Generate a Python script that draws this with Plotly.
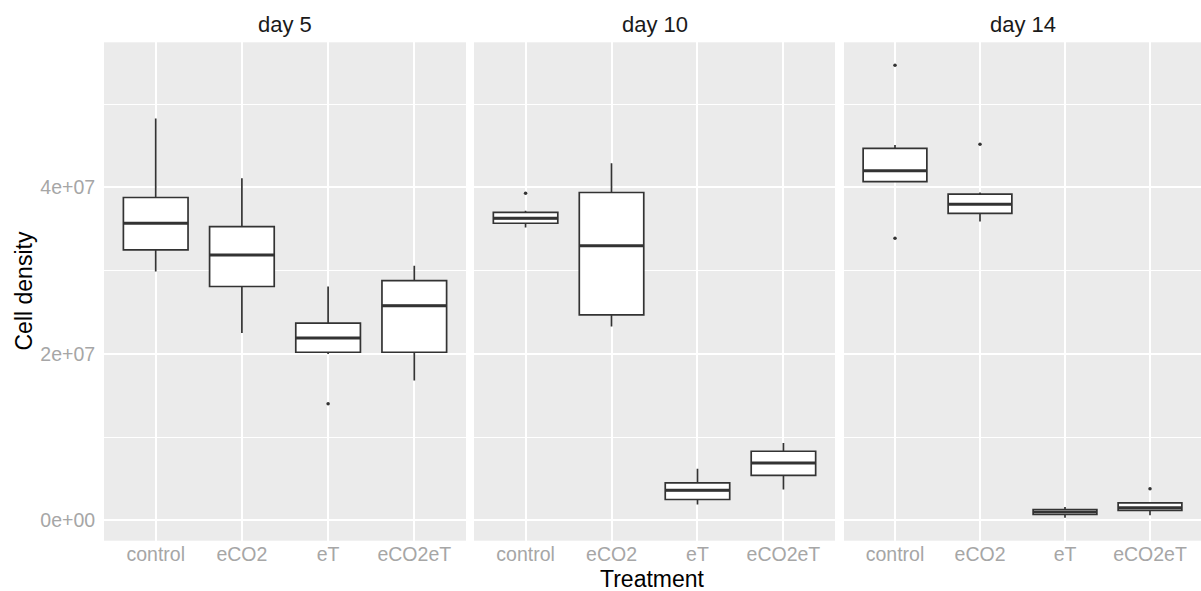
import plotly.graph_objects as go

# Treatments on the x axis and the three sampling days (facets)
treatments = ["control", "eCO2", "eT", "eCO2eT"]
days = ["day 5", "day 10", "day 14"]

# Box statistics of cell density per day (cells), in treatment order
lower_d5 = [2.99e7, 2.25e7, 2.00e7, 1.68e7]
q1_d5 = [3.25e7, 2.81e7, 2.02e7, 2.02e7]
median_d5 = [3.57e7, 3.19e7, 2.19e7, 2.58e7]
q3_d5 = [3.88e7, 3.53e7, 2.37e7, 2.88e7]
upper_d5 = [4.83e7, 4.11e7, 2.81e7, 3.06e7]
outlier_trt_d5 = ["eT"]
outlier_val_d5 = [1.40e7]

lower_d10 = [3.52e7, 2.33e7, 0.19e7, 0.37e7]
q1_d10 = [3.57e7, 2.47e7, 0.25e7, 0.54e7]
median_d10 = [3.63e7, 3.30e7, 0.36e7, 0.69e7]
q3_d10 = [3.70e7, 3.94e7, 0.45e7, 0.83e7]
upper_d10 = [3.72e7, 4.29e7, 0.62e7, 0.93e7]
outlier_trt_d10 = ["control"]
outlier_val_d10 = [3.93e7]

lower_d14 = [4.07e7, 3.59e7, 0.03e7, 0.06e7]
q1_d14 = [4.07e7, 3.69e7, 0.07e7, 0.12e7]
median_d14 = [4.20e7, 3.80e7, 0.10e7, 0.15e7]
q3_d14 = [4.47e7, 3.92e7, 0.13e7, 0.21e7]
upper_d14 = [4.51e7, 3.94e7, 0.16e7, 0.21e7]
outlier_trt_d14 = ["control", "control", "eCO2", "eCO2eT"]
outlier_val_d14 = [5.47e7, 3.39e7, 4.52e7, 0.38e7]

y_tickvals = [0, 2e7, 4e7]
y_ticktext = ["0e+00", "2e+07", "4e+07"]
y_minor = [1e7, 3e7, 5e7]

panels = [
    (lower_d5, q1_d5, median_d5, q3_d5, upper_d5, outlier_trt_d5, outlier_val_d5),
    (lower_d10, q1_d10, median_d10, q3_d10, upper_d10, outlier_trt_d10, outlier_val_d10),
    (lower_d14, q1_d14, median_d14, q3_d14, upper_d14, outlier_trt_d14, outlier_val_d14),
]

W, H = 1201, 591
INK = "#333333"
PANEL_BG = "#EBEBEB"
TICK_GREY = "#A6A6A6"
FONT = "Liberation Sans, Arial, sans-serif"
BOX_W = 0.75

# pixel extents of the three facet panels
x_px = [(104, 466), (474, 835), (844, 1201)]
y_top_px, y_bot_px = 42.3, 540.7

pos = list(range(1, len(treatments) + 1))
fig = go.Figure()

for i, (lo, q1, med, q3, hi, o_trt, o_val) in enumerate(panels):
    xa = "x" if i == 0 else f"x{i+1}"
    ya = "y" if i == 0 else f"y{i+1}"
    fig.add_trace(go.Box(
        x=pos, q1=q1, median=med, q3=q3, lowerfence=lo, upperfence=hi,
        width=BOX_W, whiskerwidth=0, boxpoints=False,
        fillcolor="white", line=dict(color=INK, width=1.7),
        xaxis=xa, yaxis=ya, showlegend=False, hoverinfo="skip",
    ))
    # heavier median bars
    mx, my = [], []
    for p, m in zip(pos, med):
        mx += [p - BOX_W / 2, p + BOX_W / 2, None]
        my += [m, m, None]
    fig.add_trace(go.Scatter(
        x=mx, y=my, mode="lines", line=dict(color=INK, width=3),
        xaxis=xa, yaxis=ya, showlegend=False, hoverinfo="skip",
    ))
    # outlying observations
    fig.add_trace(go.Scatter(
        x=[pos[treatments.index(t)] for t in o_trt], y=o_val, mode="markers",
        marker=dict(color=INK, size=3.5),
        xaxis=xa, yaxis=ya, showlegend=False, hoverinfo="skip",
    ))

y_dom = [1 - y_bot_px / H, 1 - y_top_px / H]
layout = dict(
    width=W, height=H,
    margin=dict(l=0, r=0, t=0, b=0),
    paper_bgcolor="white", plot_bgcolor=PANEL_BG,
    font=dict(family=FONT),
)
for i, (x0, x1) in enumerate(x_px):
    sfx = "" if i == 0 else str(i + 1)
    layout[f"xaxis{sfx}"] = dict(
        domain=[x0 / W, x1 / W], anchor=f"y{sfx}", range=[0.4, 4.6],
        tickvals=pos, ticktext=treatments, showgrid=True,
        gridcolor="white", gridwidth=1.5, zeroline=False, showline=False,
        ticks="", ticklabelstandoff=0,
        tickfont=dict(size=19.5, color=TICK_GREY, family=FONT),
    )
    layout[f"yaxis{sfx}"] = dict(
        domain=y_dom, anchor=f"x{sfx}", range=[-0.245e7, 5.745e7],
        tickvals=y_tickvals, ticktext=y_ticktext, showticklabels=(i == 0),
        showgrid=True, gridcolor="white", gridwidth=1.5, zeroline=False,
        showline=False, ticks="outside" if i == 0 else "", ticklen=4,
        tickcolor="rgba(0,0,0,0)",
        tickfont=dict(size=19.5, color=TICK_GREY, family=FONT),
        minor=dict(tickvals=y_minor, showgrid=True, gridcolor="white",
                   gridwidth=0.8, ticks=""),
    )
    if i > 0:
        layout[f"yaxis{sfx}"]["matches"] = "y"
fig.update_layout(**layout)

# facet strip labels
for (x0, x1), d in zip(x_px, days):
    fig.add_annotation(
        x=(x0 + x1) / 2 / W, y=1 - 24 / H, xref="paper", yref="paper",
        text=d, showarrow=False, xanchor="center", yanchor="middle",
        font=dict(size=22, color="#1A1A1A", family=FONT),
    )

# axis titles
fig.add_annotation(
    x=(x_px[0][0] + x_px[-1][1]) / 2 / W, y=1 - 579 / H, xref="paper", yref="paper",
    text="Treatment", showarrow=False, xanchor="center", yanchor="middle",
    font=dict(size=23, color="black", family=FONT),
)
fig.add_annotation(
    x=23 / W, y=1 - (y_top_px + y_bot_px) / 2 / H, xref="paper", yref="paper",
    text="Cell density", showarrow=False, textangle=-90,
    xanchor="center", yanchor="middle",
    font=dict(size=23, color="black", family=FONT),
)

fig.write_html("out.html")
